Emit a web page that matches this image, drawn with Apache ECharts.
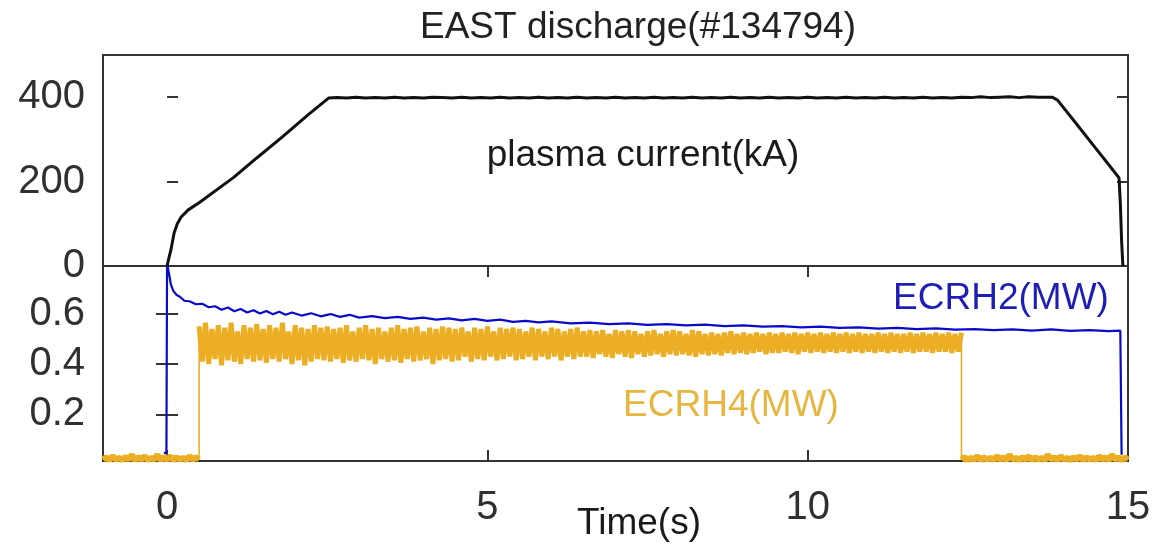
<!DOCTYPE html>
<html>
<head>
<meta charset="utf-8">
<title>EAST discharge #134794</title>
<script src="https://cdn.jsdelivr.net/npm/echarts@6/dist/echarts.min.js"></script>
<style>
  html, body { margin: 0; padding: 0; background: #fff; }
  #chart { width: 1158px; height: 549px; }
</style>
</head>
<body>
<div id="chart"></div>
<script>
// ---- Shot #134794: plasma current and ECRH powers ----

// Plasma current, [time (s), kA]
const plasmaCurrent = [
  [0.0, 0], [0.03, 20], [0.06, 38], [0.11, 78], [0.16, 100], [0.22, 116], [0.33, 133],
  [0.5, 150], [1.04, 210], [1.4, 256], [1.8, 306], [2.2, 358], [2.52, 398],
  [2.65, 399], [2.8, 398], [2.95, 400], [3.1, 398], [3.25, 399], [3.4, 398], [3.55, 400],
  [3.7, 398], [3.85, 399], [4.0, 398], [4.15, 400], [4.3, 399], [4.45, 398], [4.6, 400],
  [4.75, 398], [4.9, 399], [5.05, 398], [5.2, 400], [5.35, 398], [5.5, 399], [5.65, 398],
  [5.8, 400], [5.95, 398], [6.1, 399], [6.25, 398], [6.4, 400], [6.55, 398], [6.7, 399],
  [6.85, 398], [7.0, 400], [7.15, 398], [7.3, 399], [7.45, 398], [7.6, 400], [7.75, 398],
  [7.9, 399], [8.05, 398], [8.2, 400], [8.35, 398], [8.5, 399], [8.65, 398], [8.8, 400],
  [8.95, 398], [9.1, 399], [9.25, 398], [9.4, 400], [9.55, 398], [9.7, 399], [9.85, 398],
  [10.0, 400], [10.15, 398], [10.3, 399], [10.45, 398], [10.6, 400], [10.75, 398], [10.9, 399],
  [11.05, 398], [11.2, 400], [11.35, 398], [11.5, 399], [11.65, 398], [11.8, 400], [11.95, 398],
  [12.1, 399], [12.25, 398], [12.4, 400], [12.55, 399], [12.7, 401], [12.85, 399], [13.0, 400],
  [13.15, 401], [13.3, 399], [13.45, 401], [13.6, 400], [13.82, 400], [13.9, 393], [14.2, 336],
  [14.5, 278], [14.7, 240], [14.86, 209], [14.88, 150], [14.9, 60], [14.92, 0]
];

// ECRH2 power, [time (s), MW]
const ecrh2 = [
  [-0.05, 0.047], [-0.01, 0.047], [0.0, 0.80], [0.03, 0.76], [0.06, 0.716], [0.1, 0.69],
  [0.15, 0.675], [0.2, 0.668], [0.27, 0.652], [0.35, 0.650], [0.45, 0.638], [0.55, 0.640],
  [0.65, 0.626], [0.75, 0.630], [0.85, 0.616], [0.95, 0.625], [1.05, 0.610], [1.15, 0.619],
  [1.25, 0.605], [1.35, 0.614], [1.45, 0.601], [1.55, 0.611], [1.65, 0.598], [1.75, 0.608],
  [1.85, 0.596], [1.95, 0.605], [2.1, 0.593], [2.25, 0.602], [2.4, 0.590], [2.55, 0.599],
  [2.7, 0.588], [2.85, 0.596], [3.0, 0.585], [3.2, 0.591], [3.4, 0.583], [3.6, 0.588],
  [3.8, 0.580], [4.0, 0.585], [4.2, 0.577], [4.4, 0.582], [4.6, 0.574], [4.8, 0.580],
  [5.0, 0.572], [5.2, 0.577], [5.4, 0.568], [5.6, 0.572], [5.8, 0.566], [6.0, 0.570],
  [6.3, 0.562], [6.6, 0.565], [6.9, 0.559], [7.2, 0.562], [7.5, 0.556], [7.8, 0.559],
  [8.1, 0.554], [8.4, 0.557], [8.7, 0.551], [9.0, 0.554], [9.3, 0.549], [9.6, 0.551],
  [9.9, 0.546], [10.2, 0.549], [10.5, 0.544], [10.8, 0.546], [11.1, 0.541], [11.4, 0.544],
  [11.7, 0.539], [12.0, 0.542], [12.3, 0.537], [12.6, 0.539], [12.9, 0.535], [13.2, 0.538],
  [13.5, 0.533], [13.8, 0.538], [14.1, 0.532], [14.4, 0.535], [14.7, 0.531], [14.88, 0.533],
  [14.9, 0.04]
];

// ECRH4 power, sampled every 0.05 s (MW)
const ecrh4Step = 0.05;
const ecrh4PreStart = -1.0;   // before the gyrotron turns on
const ecrh4Pre = [
  0.02, 0.03, 0.018, 0.035, 0.02, 0.028, 0.018, 0.032, 0.02, 0.04,
  0.018, 0.03, 0.02, 0.035, 0.018, 0.028, 0.02, 0.04, 0.018, 0.032,
  0.02, 0.035, 0.018, 0.03, 0.02, 0.028, 0.018, 0.035, 0.02, 0.03, 0.02
];
const ecrh4OnStart = 0.5;     // heating pulse
const ecrh4On = [
  0.55, 0.41, 0.565, 0.40, 0.54, 0.42, 0.555, 0.395, 0.545, 0.415, 0.565, 0.41, 0.53, 0.40, 0.555, 0.42, 0.545, 0.41, 0.56, 0.415,
  0.54, 0.405, 0.555, 0.42, 0.545, 0.41, 0.565, 0.42, 0.53, 0.40, 0.555, 0.415, 0.545, 0.395, 0.54, 0.41, 0.555, 0.42, 0.545, 0.415,
  0.55, 0.41, 0.54, 0.42, 0.545, 0.405, 0.555, 0.415, 0.53, 0.41, 0.545, 0.42, 0.555, 0.415, 0.54, 0.40, 0.545, 0.42, 0.53, 0.41,
  0.545, 0.415, 0.555, 0.405, 0.54, 0.42, 0.545, 0.41, 0.55, 0.415, 0.53, 0.42, 0.545, 0.40, 0.54, 0.415, 0.55, 0.42, 0.545, 0.41,
  0.54, 0.415, 0.545, 0.43, 0.53, 0.41, 0.545, 0.42, 0.54, 0.415, 0.55, 0.43, 0.53, 0.415, 0.545, 0.42, 0.54, 0.43, 0.545, 0.415,
  0.54, 0.42, 0.53, 0.43, 0.545, 0.415, 0.54, 0.43, 0.53, 0.42, 0.545, 0.43, 0.54, 0.415, 0.53, 0.43, 0.54, 0.42, 0.545, 0.43,
  0.53, 0.43, 0.535, 0.425, 0.53, 0.44, 0.535, 0.43, 0.52, 0.425, 0.535, 0.44, 0.53, 0.43, 0.535, 0.425, 0.53, 0.44, 0.52, 0.43,
  0.53, 0.435, 0.535, 0.44, 0.52, 0.43, 0.53, 0.44, 0.535, 0.435, 0.53, 0.44, 0.52, 0.435, 0.535, 0.43, 0.53, 0.44, 0.52, 0.435,
  0.525, 0.44, 0.52, 0.435, 0.525, 0.445, 0.53, 0.44, 0.52, 0.445, 0.525, 0.44, 0.52, 0.445, 0.525, 0.45, 0.52, 0.44, 0.525, 0.445,
  0.52, 0.445, 0.525, 0.45, 0.52, 0.445, 0.525, 0.44, 0.52, 0.45, 0.525, 0.445, 0.52, 0.45, 0.525, 0.445, 0.52, 0.45, 0.525, 0.445,
  0.52, 0.45, 0.525, 0.445, 0.52, 0.45, 0.525, 0.445, 0.52, 0.45, 0.52, 0.445, 0.525, 0.45, 0.52, 0.445, 0.525, 0.45, 0.52, 0.445,
  0.52, 0.45, 0.525, 0.445, 0.52, 0.45, 0.525, 0.45, 0.52, 0.445, 0.525, 0.45, 0.52, 0.45, 0.525, 0.445, 0.52, 0.45, 0.525
];
const ecrh4PostStart = 12.4;  // after the pulse ends
const ecrh4Post = [
  0.02, 0.03, 0.018, 0.028, 0.02, 0.035, 0.018, 0.03, 0.02, 0.028,
  0.018, 0.035, 0.02, 0.03, 0.018, 0.04, 0.02, 0.028, 0.018, 0.03,
  0.02, 0.035, 0.018, 0.03, 0.02, 0.028, 0.018, 0.04, 0.02, 0.03,
  0.018, 0.035, 0.02, 0.028, 0.018, 0.03, 0.02, 0.035, 0.018, 0.03,
  0.02, 0.028, 0.018, 0.035, 0.02, 0.03, 0.018, 0.04, 0.02, 0.03,
  0.018, 0.03, 0.02
];

// Axis ticks
const timeTicks = [0, 5, 10, 15];
const currentTicks = [0, 200, 400];
const powerTicks = [0.2, 0.4, 0.6];

function sampled(start, values) {
  return values.map((v, i) => [+(start + i * ecrh4Step).toFixed(3), v]);
}
const ecrh4PreData = sampled(ecrh4PreStart, ecrh4Pre);
const ecrh4OnData = sampled(ecrh4OnStart, ecrh4On);
const ecrh4PostData = sampled(ecrh4PostStart, ecrh4Post);
// switch-on / switch-off edges join the three pieces with a thin trace
const ecrh4Edges = [
  ecrh4PreData[ecrh4PreData.length - 1], ecrh4OnData[0], null,
  ecrh4OnData[ecrh4OnData.length - 1], ecrh4PostData[0]
].map(p => p ? p : '-');

const FONT = "'Liberation Sans', Arial, sans-serif";
const INK = '#303030';
const FRAME = '#333';
const ORANGE = '#EBAE24';

const chart = echarts.init(document.getElementById('chart'), null, { renderer: 'canvas' });

const tickIn = { show: true, inside: true, length: 11, lineStyle: { color: FRAME, width: 2 } };
const noLine = { show: false };

function ecrh4Series(data, width) {
  return {
    type: 'line', xAxisIndex: 1, yAxisIndex: 2, data: data,
    showSymbol: false, z: 2, connectNulls: false,
    lineStyle: { color: ORANGE, width: width, join: 'bevel' }
  };
}

chart.setOption({
  animation: false,
  backgroundColor: '#fff',
  grid: [
    { left: 103, right: 30, top: 55, height: 211, show: true, borderColor: FRAME, borderWidth: 2, backgroundColor: '#fff' },
    { left: 103, right: 30, top: 266, height: 195, show: true, borderColor: FRAME, borderWidth: 2, backgroundColor: 'transparent' }
  ],
  xAxis: [
    { gridIndex: 0, type: 'value', min: -1, max: 15, axisLine: noLine, axisTick: noLine, axisLabel: noLine, splitLine: noLine },
    {
      gridIndex: 1, type: 'value', min: -1, max: 15, position: 'bottom',
      axisLine: noLine, splitLine: noLine,
      axisTick: Object.assign({ customValues: timeTicks }, tickIn),
      axisLabel: { customValues: timeTicks, margin: 27, fontFamily: FONT, fontSize: 40, color: INK }
    },
    {
      gridIndex: 1, type: 'value', min: -1, max: 15, position: 'top',
      axisLine: noLine, splitLine: noLine, axisLabel: noLine,
      axisTick: Object.assign({ customValues: timeTicks }, tickIn)
    }
  ],
  yAxis: [
    {
      gridIndex: 0, type: 'value', min: 0, max: 500, position: 'left',
      axisLine: noLine, splitLine: noLine,
      axisTick: Object.assign({ customValues: currentTicks }, tickIn),
      axisLabel: { customValues: currentTicks, margin: 18, fontFamily: FONT, fontSize: 40, color: INK }
    },
    {
      gridIndex: 0, type: 'value', min: 0, max: 500, position: 'right',
      axisLine: noLine, splitLine: noLine, axisLabel: noLine,
      axisTick: Object.assign({ customValues: currentTicks }, tickIn)
    },
    {
      gridIndex: 1, type: 'value', min: 0.015, max: 0.79, position: 'left',
      axisLine: noLine, splitLine: noLine,
      axisTick: Object.assign({ customValues: powerTicks }, tickIn),
      axisLabel: {
        customValues: powerTicks, margin: 18, fontFamily: FONT, fontSize: 40, color: INK,
        formatter: v => v.toFixed(1)
      }
    },
    {
      gridIndex: 1, type: 'value', min: 0.015, max: 0.79, position: 'right',
      axisLine: noLine, splitLine: noLine, axisLabel: noLine,
      axisTick: Object.assign({ customValues: powerTicks }, tickIn)
    }
  ],
  series: [
    ecrh4Series(ecrh4PreData, 6),
    ecrh4Series(ecrh4OnData, 5),
    ecrh4Series(ecrh4PostData, 6),
    ecrh4Series(ecrh4Edges, 1.6),
    {
      name: 'ECRH2', type: 'line', xAxisIndex: 1, yAxisIndex: 2, data: ecrh2,
      showSymbol: false, z: 3,
      lineStyle: { color: '#0a0ac8', width: 2.2 }
    },
    {
      name: 'Ip', type: 'line', xAxisIndex: 0, yAxisIndex: 0, data: plasmaCurrent,
      showSymbol: false, z: 4,
      lineStyle: { color: '#111', width: 3 }
    }
  ],
  graphic: [
    { type: 'text', x: 638, y: 28, style: { text: 'EAST discharge(#134794)', font: '37px ' + FONT, fill: '#222', align: 'center', verticalAlign: 'middle' } },
    { type: 'text', x: 643, y: 156, style: { text: 'plasma current(kA)', font: '37px ' + FONT, fill: '#1a1a1a', align: 'center', verticalAlign: 'middle' } },
    { type: 'text', x: 1001, y: 299, style: { text: 'ECRH2(MW)', font: '37px ' + FONT, fill: '#1e1eb4', align: 'center', verticalAlign: 'middle' } },
    { type: 'text', x: 731, y: 406, style: { text: 'ECRH4(MW)', font: '37px ' + FONT, fill: '#e6b640', align: 'center', verticalAlign: 'middle' } },
    { type: 'text', x: 639, y: 524, style: { text: 'Time(s)', font: '37px ' + FONT, fill: '#1a1a1a', align: 'center', verticalAlign: 'middle' } }
  ]
});
</script>
</body>
</html>
